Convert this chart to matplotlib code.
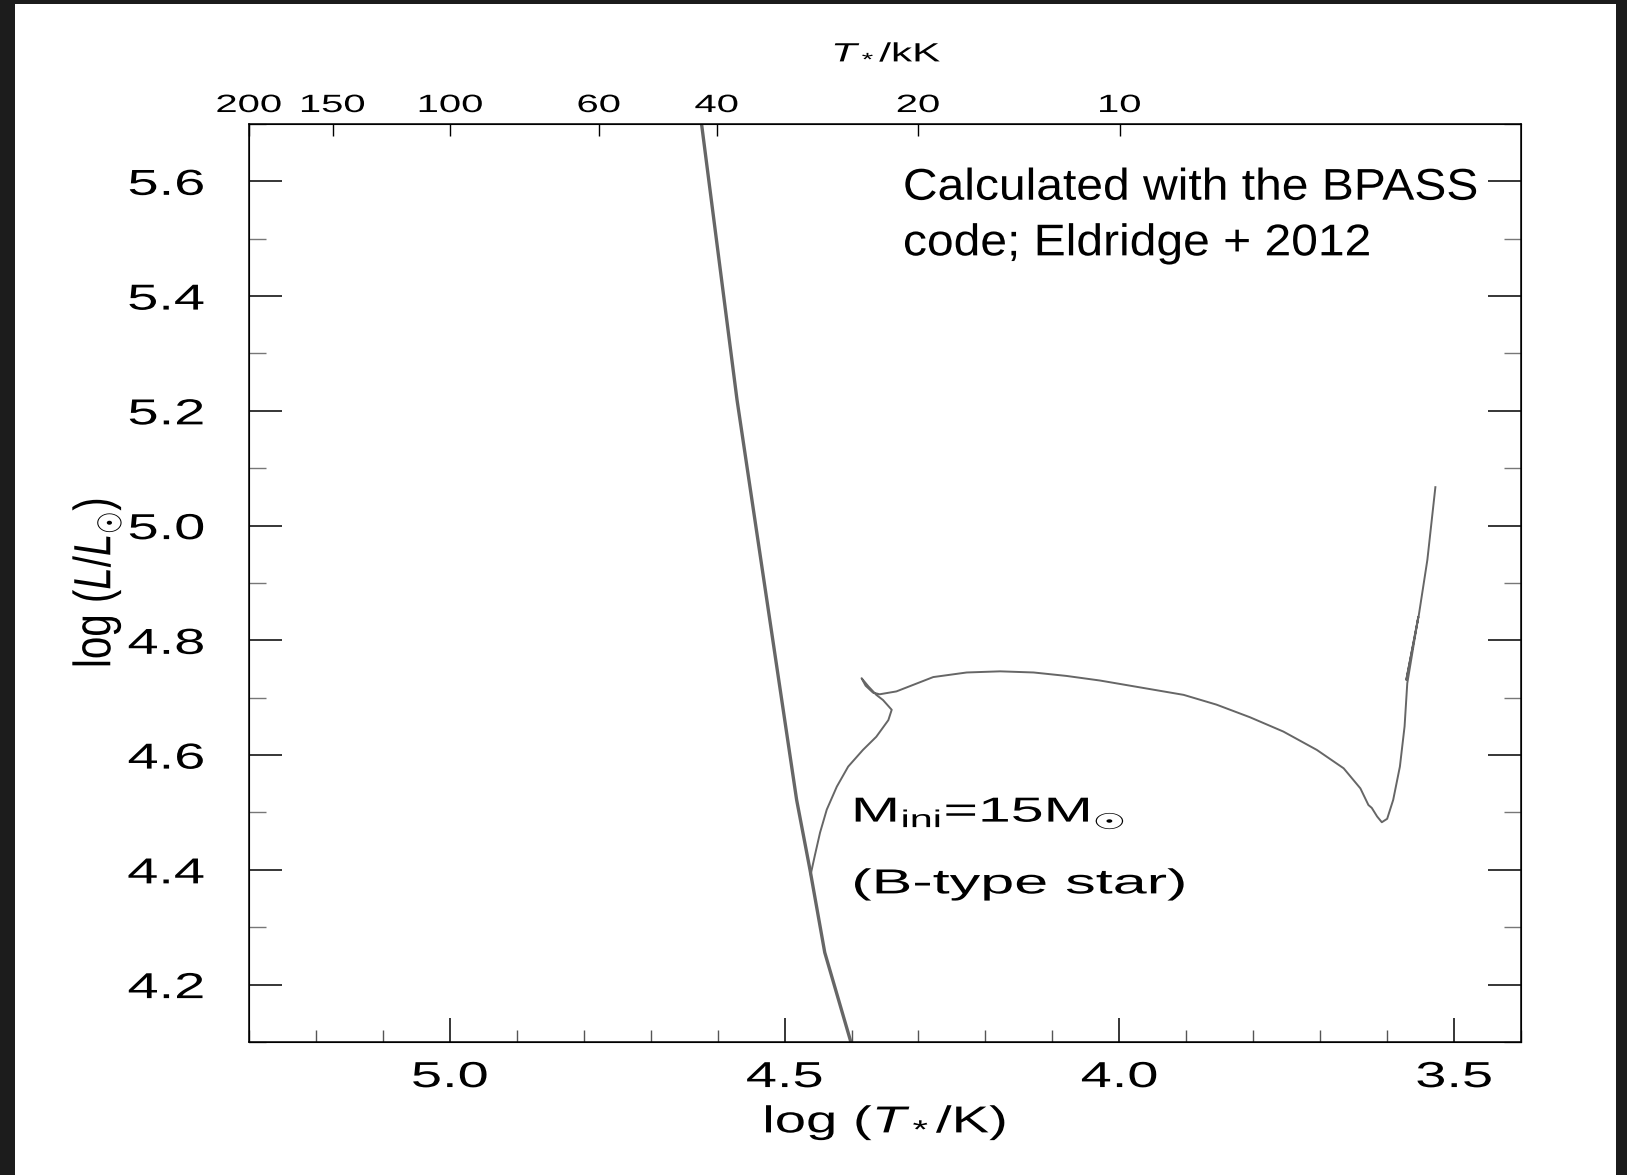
import matplotlib
matplotlib.use("Agg")
import matplotlib.pyplot as plt
import numpy as np
from matplotlib.patches import Rectangle
from matplotlib.patheffects import AbstractPathEffect
from matplotlib.ticker import FixedLocator, MultipleLocator
from matplotlib.transforms import Affine2D

plt.rcParams["font.family"] = ["Liberation Sans", "DejaVu Sans"]
plt.rcParams["mathtext.fontset"] = "custom"
plt.rcParams["mathtext.rm"] = "Liberation Sans"
plt.rcParams["mathtext.it"] = "Liberation Sans:italic"

# zero-age main sequence line
zams_logT = [4.630, 4.624, 4.571, 4.482, 4.462, 4.440, 4.402, 4.396]
zams_logL = [5.750, 5.700, 5.219, 4.522, 4.400, 4.256, 4.104, 4.080]

# 15 Msun evolutionary track (BPASS)
track_logT = [4.461, 4.455, 4.447, 4.437, 4.422, 4.405, 4.383, 4.363, 4.345,
              4.340, 4.353, 4.363, 4.375, 4.385, 4.379, 4.368, 4.358, 4.333,
              4.278, 4.228, 4.178, 4.128, 4.079, 4.029, 3.979, 3.939, 3.904,
              3.855, 3.805, 3.755, 3.705, 3.665, 3.640, 3.628, 3.623, 3.615,
              3.608, 3.600, 3.591, 3.581, 3.574, 3.570, 3.5535, 3.5715, 3.553,
              3.540, 3.528]
track_logL = [4.392, 4.424, 4.465, 4.505, 4.545, 4.580, 4.609, 4.632, 4.661,
              4.679, 4.696, 4.705, 4.720, 4.734, 4.721, 4.709, 4.706, 4.711,
              4.736, 4.744, 4.746, 4.744, 4.738, 4.730, 4.720, 4.712, 4.705,
              4.688, 4.666, 4.641, 4.609, 4.577, 4.542, 4.513, 4.508, 4.493,
              4.483, 4.489, 4.522, 4.580, 4.650, 4.725, 4.841, 4.731, 4.842,
              4.940, 5.067]

x_major = [5.0, 4.5, 4.0, 3.5]
y_major = [4.2, 4.4, 4.6, 4.8, 5.0, 5.2, 5.4, 5.6]
top_kK = [200, 150, 100, 60, 40, 20, 10]


class Stretch(AbstractPathEffect):
    """Draw text glyphs widened along x (in the text's own frame)."""

    def __init__(self, sx=1.0, sy=1.0, anchor="center"):
        super().__init__()
        self.sx = sx
        self.sy = sy
        self.anchor = anchor

    def draw_path(self, renderer, gc, tpath, affine, rgbFace=None):
        ext = tpath.get_extents()
        cx = {"left": ext.x0, "center": 0.5 * (ext.x0 + ext.x1), "right": ext.x1}[self.anchor]
        cy = 0.5 * (ext.y0 + ext.y1)
        st = Affine2D().translate(-cx, -cy).scale(self.sx, self.sy).translate(cx, cy)
        renderer.draw_path(gc, tpath, st + affine, rgbFace)


fig = plt.figure(figsize=(16.27, 11.75), dpi=100)
ax = fig.add_axes([0.1530, 0.1132, 0.7819, 0.7813])

ax.plot(zams_logT, zams_logL, color="#666666", lw=2.4)
ax.plot(track_logT, track_logL, color="#666666", lw=1.4, solid_joinstyle="round")

ax.set_xlim(5.3, 3.4)
ax.set_ylim(4.1, 5.7)

ax.xaxis.set_major_locator(FixedLocator(x_major))
ax.xaxis.set_minor_locator(MultipleLocator(0.1))
ax.yaxis.set_major_locator(FixedLocator(y_major))
ax.yaxis.set_minor_locator(MultipleLocator(0.1))
ax.set_xticklabels([f"{v:.1f}" for v in x_major])
ax.set_yticklabels([f"{v:.1f}" for v in y_major])

ax.tick_params(axis="x", which="major", direction="in", length=17, width=1.1,
               top=False, bottom=True, labelsize=26, pad=13)
ax.tick_params(axis="x", which="minor", direction="in", length=8.6, width=1.0,
               top=False, bottom=True, color="#555555")
ax.tick_params(axis="y", which="major", direction="in", length=24, width=1.1,
               left=True, right=True, labelsize=26, pad=32)
ax.tick_params(axis="y", which="minor", direction="in", length=12, width=1.0,
               left=True, right=True, color="#777777")
for s in ax.spines.values():
    s.set_linewidth(1.1)

# temperature in kK along the top
ax2 = ax.twiny()
ax2.set_xlim(ax.get_xlim())
ax2.set_xticks(np.log10(np.array(top_kK) * 1e3))
ax2.set_xticklabels([str(t) for t in top_kK])
ax2.tick_params(axis="x", direction="in", length=8.6, width=1.0, labelsize=18, pad=5)
ax2.set_xlabel(r"$T_*$/kK", fontsize=19)
ax2.xaxis.set_label_coords(0.5016, 1.068)

ax.set_xlabel(r"log ($T_*$/K)", fontsize=27)
ax.xaxis.set_label_coords(0.5, -0.066)
ax.set_ylabel(r"log ($L/L_{\odot}$)", fontsize=29)
ax.yaxis.set_label_coords(-0.103, 0.5)

ax.text(4.323, 5.568, "Calculated with the BPASS", fontsize=32, ha="left",
        va="baseline", path_effects=[Stretch(1.08, anchor="left")])
ax.text(4.323, 5.471, "code; Eldridge + 2012", fontsize=32, ha="left",
        va="baseline", path_effects=[Stretch(1.08, anchor="left")])

ax.text(4.398, 4.484, r"M$_{\rm ini}$=15M$_{\odot}$", fontsize=25, ha="left",
        va="baseline", path_effects=[Stretch(1.7, anchor="left")])
ax.text(4.398, 4.359, "(B-type star)", fontsize=25, ha="left",
        va="baseline", path_effects=[Stretch(1.76, anchor="left")])

for lab in ax.get_xticklabels():
    lab.set_path_effects([Stretch(1.55)])
for lab in ax.get_yticklabels():
    lab.set_path_effects([Stretch(1.55, anchor="right")])
for lab in ax2.get_xticklabels():
    lab.set_path_effects([Stretch(1.6)])
ax.xaxis.label.set_path_effects([Stretch(1.5)])
ax.yaxis.label.set_path_effects([Stretch(1.0, 1.3)])
ax2.xaxis.label.set_path_effects([Stretch(1.6)])

# dark frame around the page
frame = "#1c1c1c"
fig.add_artist(Rectangle((0, 0), 15 / 1627, 1, transform=fig.transFigure, color=frame, lw=0))
fig.add_artist(Rectangle((1616 / 1627, 0), 11 / 1627, 1, transform=fig.transFigure, color=frame, lw=0))
fig.add_artist(Rectangle((0, 1 - 4 / 1175), 1, 4 / 1175, transform=fig.transFigure, color=frame, lw=0))

fig.savefig("out.png", dpi=100)
